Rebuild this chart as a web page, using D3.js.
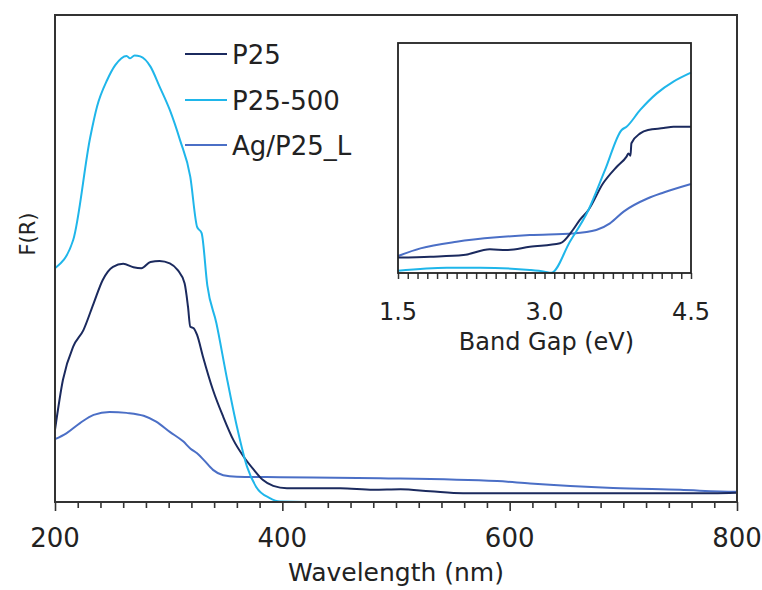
<!DOCTYPE html>
<html><head><meta charset="utf-8">
<script src="https://cdn.jsdelivr.net/npm/d3@7"></script>
<style>body{margin:0;background:#fff}svg{display:block}text{font-family:"DejaVu Sans",Verdana,sans-serif;fill:#222}</style>
</head><body><svg id="c" width="762" height="590"></svg>
<script>
// ---- main spectrum data (wavelength nm, F(R) arbitrary units) ----
const p25Wl = [200,207,216,225,234,242,251,260,269,276,284,292,301,308,314,317,319,322,325,330,339,348,357,366,375,383,392,404,427,451,480,504,530,559,620,700,779,800];
const p25Val = [0.148,0.251,0.319,0.353,0.408,0.456,0.483,0.489,0.482,0.480,0.493,0.495,0.490,0.476,0.449,0.401,0.360,0.357,0.343,0.300,0.230,0.175,0.127,0.093,0.066,0.045,0.033,0.028,0.028,0.028,0.025,0.026,0.022,0.018,0.018,0.018,0.018,0.019];
const p25500Wl = [200,216,231,237,246,253,263,266,270,275,284,292,301,310,319,325,329,334,342,351,360,369,377,389,398,420,500,600,700,800];
const p25500Val = [0.480,0.538,0.749,0.812,0.867,0.897,0.916,0.911,0.917,0.915,0.894,0.853,0.805,0.743,0.668,0.565,0.552,0.445,0.367,0.257,0.155,0.072,0.031,0.008,0.001,0,0,0,0,0];
const agWl = [200,210,222,234,248,263,278,289,301,313,319,325,331,339,348,360,398,486,589,618,691,750,798,800];
const agVal = [0.129,0.141,0.162,0.179,0.185,0.183,0.177,0.165,0.144,0.124,0.110,0.100,0.086,0.066,0.055,0.052,0.051,0.049,0.043,0.038,0.029,0.025,0.021,0.021];

// ---- inset data (band gap eV) ----
const inP25Ev = [1.5,1.83,2.17,2.44,2.61,2.85,3.16,3.29,3.36,3.45,3.60,3.74,3.84,3.86,3.88,3.89,3.98,4.06,4.22,4.32,4.5];
const inP25Val = [0.067,0.071,0.078,0.103,0.100,0.114,0.129,0.187,0.230,0.274,0.390,0.462,0.506,0.520,0.510,0.564,0.607,0.622,0.630,0.636,0.636];
const inP25500Ev = [1.5,2.0,2.34,2.85,3.0,3.07,3.26,3.45,3.62,3.79,3.84,3.98,4.15,4.32,4.5];
const inP25500Val = [0.010,0.023,0.023,0.013,0.006,0.001,0.136,0.274,0.448,0.622,0.636,0.709,0.781,0.832,0.871];
const inAgEv = [1.5,1.73,2.10,2.51,2.85,3.29,3.53,3.67,3.81,4.06,4.22,4.5];
const inAgVal = [0.074,0.107,0.136,0.155,0.165,0.172,0.187,0.216,0.267,0.325,0.350,0.387];

const seriesNames = ["P25","P25-500","Ag/P25_L"];
const seriesColors = ["#1b2a5e","#1fb6ea","#4b6fc6"];
const mainTicks = [200,400,600,800];
const insetTicks = [1.5,3.0,4.5];

const svg = d3.select("#c");
const M = {l:55, r:737, t:15, b:502};
const x = d3.scaleLinear().domain([200,800]).range([M.l, M.r]);
const y = d3.scaleLinear().domain([0,1]).range([M.b, M.t]);

const mainData = [
  p25Wl.map((w,i)=>[w,p25Val[i]]),
  p25500Wl.map((w,i)=>[w,p25500Val[i]]),
  agWl.map((w,i)=>[w,agVal[i]])
];
const line = d3.line().x(d=>x(d[0])).y(d=>y(d[1])).curve(d3.curveMonotoneX);
const drawOrder = [2,0,1];
drawOrder.forEach(i=>{
  svg.append("path").attr("d", line(mainData[i])).attr("fill","none")
    .attr("stroke", seriesColors[i]).attr("stroke-width",2);
});

// main x axis ticks
const xAxis = d3.axisBottom(x).tickValues(d3.range(200,801,20)).tickSize(7).tickFormat("");
const gx = svg.append("g").attr("transform",`translate(0,${M.b})`).call(xAxis);
gx.select(".domain").remove();
gx.selectAll("line").attr("stroke","#333").attr("stroke-width",1.6)
  .attr("y2", d=> mainTicks.includes(d) ? 9 : 6);
mainTicks.forEach(t=>{
  svg.append("text").attr("x",x(t)).attr("y",547).attr("text-anchor","middle")
    .attr("font-size",26).text(t);
});
// frame
svg.append("rect").attr("x",M.l).attr("y",M.t).attr("width",M.r-M.l).attr("height",M.b-M.t)
  .attr("fill","none").attr("stroke","#333").attr("stroke-width",2);
svg.append("text").attr("x",(M.l+M.r)/2).attr("y",581).attr("text-anchor","middle")
  .attr("font-size",25).text("Wavelength (nm)");
svg.append("text").attr("transform","translate(35,234) rotate(-90)").attr("text-anchor","middle")
  .attr("font-size",21).text("F(R)");

// legend
const legY = [54,100,145];
seriesNames.forEach((n,i)=>{
  svg.append("line").attr("x1",185).attr("x2",227).attr("y1",legY[i]).attr("y2",legY[i])
    .attr("stroke",seriesColors[i]).attr("stroke-width",2);
  svg.append("text").attr("x",232).attr("y",legY[i]+10).attr("font-size",26).text(n);
});

// inset
const I = {l:398, r:691, t:43, b:273};
const xi = d3.scaleLinear().domain([1.5,4.5]).range([I.l, I.r]);
const yi = d3.scaleLinear().domain([0,1]).range([I.b, I.t]);
svg.append("rect").attr("x",I.l).attr("y",I.t).attr("width",I.r-I.l).attr("height",I.b-I.t).attr("fill","#fff");
const insetData = [
  inP25Ev.map((e,i)=>[e,inP25Val[i]]),
  inP25500Ev.map((e,i)=>[e,inP25500Val[i]]),
  inAgEv.map((e,i)=>[e,inAgVal[i]])
];
const lineI = d3.line().x(d=>xi(d[0])).y(d=>yi(d[1])).curve(d3.curveMonotoneX);
drawOrder.forEach(i=>{
  svg.append("path").attr("d", lineI(insetData[i])).attr("fill","none")
    .attr("stroke", seriesColors[i]).attr("stroke-width",2);
});
const xiAxis = d3.axisBottom(xi).tickValues(d3.range(0,31).map(k=>1.5+k*0.1)).tickSize(6).tickFormat("");
const gxi = svg.append("g").attr("transform",`translate(0,${I.b})`).call(xiAxis);
gxi.select(".domain").remove();
gxi.selectAll("line").attr("stroke","#333").attr("stroke-width",1.5);
insetTicks.forEach(t=>{
  svg.append("text").attr("x",xi(t)).attr("y",320).attr("text-anchor","middle")
    .attr("font-size",24).text(t.toFixed(1));
});
svg.append("rect").attr("x",I.l).attr("y",I.t).attr("width",I.r-I.l).attr("height",I.b-I.t)
  .attr("fill","none").attr("stroke","#222").attr("stroke-width",1.8);
svg.append("text").attr("x",(I.l+I.r)/2+2).attr("y",350).attr("text-anchor","middle")
  .attr("font-size",24).text("Band Gap (eV)");
</script></body></html>
